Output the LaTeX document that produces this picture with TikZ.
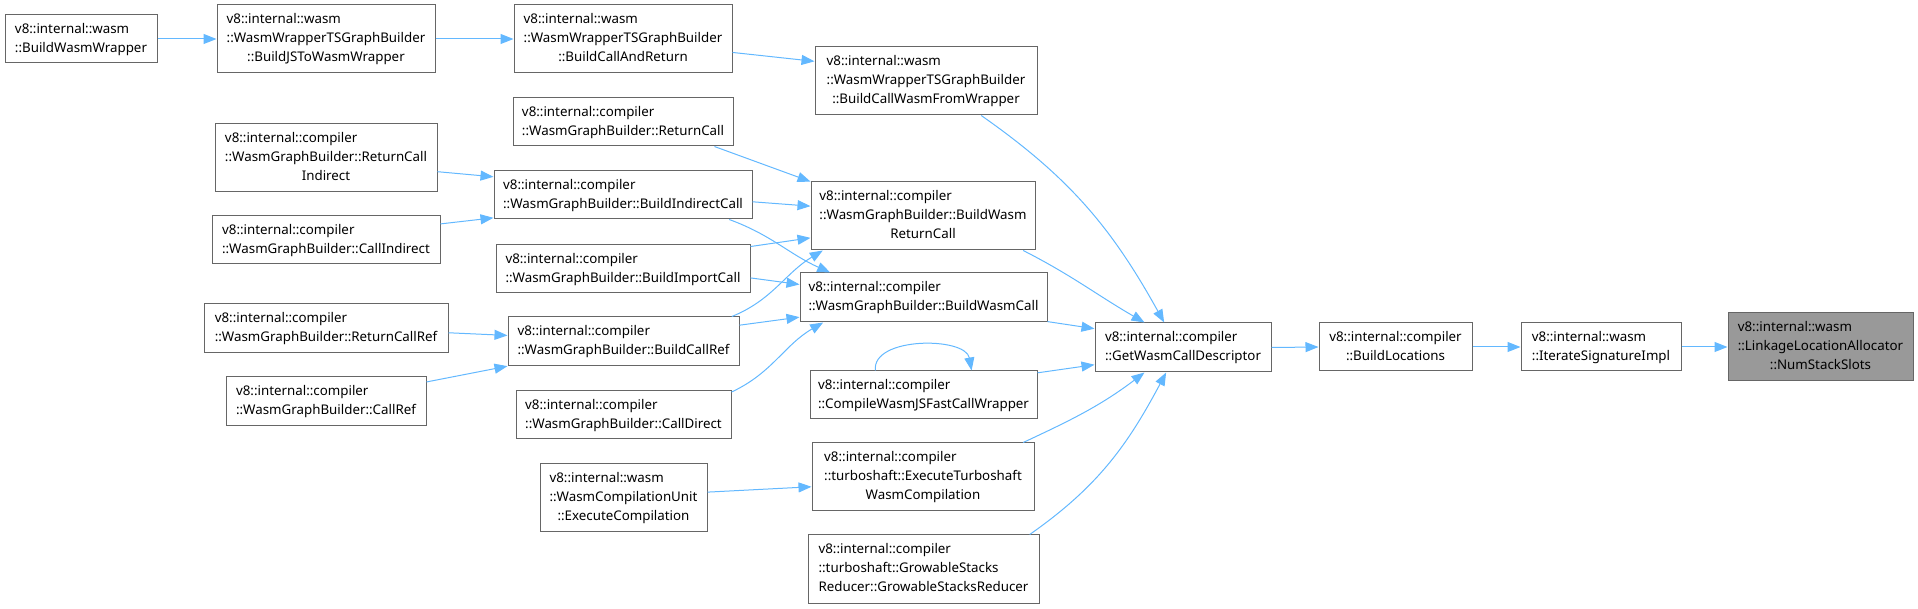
\documentclass[tikz,border=0pt]{standalone}
\usepackage{fontspec}
\setmainfont{Noto Sans}
\usetikzlibrary{arrows.meta}
\definecolor{edgecol}{HTML}{63B8FF}
\definecolor{bordercol}{HTML}{666666}
\definecolor{hilite}{HTML}{999999}
\newcommand{\twol}[2]{\begin{tabular}{@{}l@{}}#1\\\multicolumn{1}{@{}c@{}}{#2}\end{tabular}}
\newcommand{\threel}[3]{\begin{tabular}{@{}l@{}}#1\\#2\\\multicolumn{1}{@{}c@{}}{#3}\end{tabular}}
\begin{document}
\begin{tikzpicture}[x=0.75pt,y=-0.75pt,
  box/.style 2 args={draw=bordercol, line width=0.75pt, fill=white, inner sep=0pt,
    minimum width=#1*0.75pt, minimum height=#2*0.75pt,
    font=\fontsize{10}{14.25}\selectfont},
  hbox/.style 2 args={box={#1}{#2}, fill=hilite},
  edge/.style={draw=edgecol, line width=0.75pt, -{Triangle[length=9.75pt,width=7.5pt]}}]
\useasboundingbox (0,0) rectangle (1918,609);
% nodes
\node[box={152}{48}] (bww) at (81,39) {\twol{v8::internal::wasm}{::BuildWasmWrapper}};
\node[box={218}{68}] (jsw) at (326,39) {\threel{v8::internal::wasm}{::WasmWrapperTSGraphBuilder}{::BuildJSToWasmWrapper}};
\node[box={218}{68}] (bcar) at (623,39) {\threel{v8::internal::wasm}{::WasmWrapperTSGraphBuilder}{::BuildCallAndReturn}};
\node[box={222}{68}] (bcwfw) at (926,81) {\threel{v8::internal::wasm}{::WasmWrapperTSGraphBuilder}{::BuildCallWasmFromWrapper}};
\node[box={220}{48}] (rc) at (623,122) {\twol{v8::internal::compiler}{::WasmGraphBuilder::ReturnCall}};
\node[box={222}{68}] (rci) at (326,158) {\threel{v8::internal::compiler}{::WasmGraphBuilder::ReturnCall}{Indirect}};
\node[box={258}{48}] (bic) at (623,195) {\twol{v8::internal::compiler}{::WasmGraphBuilder::BuildIndirectCall}};
\node[box={224}{68}] (bwrc) at (923,216) {\threel{v8::internal::compiler}{::WasmGraphBuilder::BuildWasm}{ReturnCall}};
\node[box={228}{48}] (ci) at (326,240) {\twol{v8::internal::compiler}{::WasmGraphBuilder::CallIndirect}};
\node[box={254}{48}] (bimc) at (623,269) {\twol{v8::internal::compiler}{::WasmGraphBuilder::BuildImportCall}};
\node[box={247}{49}] (bwc) at (923.5,297.5) {\twol{v8::internal::compiler}{::WasmGraphBuilder::BuildWasmCall}};
\node[box={244}{49}] (rcr) at (326,328.5) {\twol{v8::internal::compiler}{::WasmGraphBuilder::ReturnCallRef}};
\node[box={231}{49}] (bcr) at (623.5,341.5) {\twol{v8::internal::compiler}{::WasmGraphBuilder::BuildCallRef}};
\node[box={200}{49}] (cr) at (326,401.5) {\twol{v8::internal::compiler}{::WasmGraphBuilder::CallRef}};
\node[box={215}{48}] (cd) at (623.5,415) {\twol{v8::internal::compiler}{::WasmGraphBuilder::CallDirect}};
\node[box={227}{48}] (cwjs) at (923.5,395) {\twol{v8::internal::compiler}{::CompileWasmJSFastCallWrapper}};
\node[box={167}{68}] (wcu) at (623.5,498) {\threel{v8::internal::wasm}{::WasmCompilationUnit}{::ExecuteCompilation}};
\node[box={222}{68}] (etwc) at (923,477) {\threel{v8::internal::compiler}{::turboshaft::ExecuteTurboshaft}{WasmCompilation}};
\node[box={231}{68}] (gsr) at (923.5,569) {\threel{v8::internal::compiler}{::turboshaft::GrowableStacks}{Reducer::GrowableStacksReducer}};
\node[box={176}{49}] (gwcd) at (1183,347.5) {\twol{v8::internal::compiler}{::GetWasmCallDescriptor}};
\node[box={153}{48}] (bl) at (1395.5,347) {\twol{v8::internal::compiler}{::BuildLocations}};
\node[box={160}{48}] (isi) at (1601,347) {\twol{v8::internal::wasm}{::IterateSignatureImpl}};
\node[hbox={185}{68}] (nss) at (1820.5,347) {\threel{v8::internal::wasm}{::LinkageLocationAllocator}{::NumStackSlots}};
% edges
\draw[edge] (bww.east) -- (jsw.west);
\draw[edge] (jsw.east) -- (bcar.west);
\draw[edge] (bcar.-7.8) -- (bcwfw.170.8);
\draw[edge] (bcwfw.-32.7) to[out=-35,in=119] (gwcd.127.8);
\draw[edge] (rc.-15.1) -- (bwrc.163);
\draw[edge] (bic.-3.5) -- (bwrc.175.4);
\draw[edge] (bic.-13.9) to[out=-20,in=156] (bwc.165.6);
\draw[edge] (rci.-7.2) -- (bic.172.5);
\draw[edge] (ci.8.5) -- (bic.-170.8);
\draw[edge] (bimc.10.3) -- (bwrc.-169.4);
\draw[edge] (bimc.-4.95) -- (bwc.174.7);
\draw[edge] (bcr.13.6) to[out=22,in=-149] (bwrc.-161.7);
\draw[edge] (bcr.8.6) -- (bwc.-171);
\draw[edge] (rcr.-2.6) -- (bcr.177.3);
\draw[edge] (cr.11.6) -- (bcr.-168.5);
\draw[edge] (cd.12.7) to[out=25,in=-150] (bwc.-166);
\draw[edge] (bwrc.-19.3) to[out=-27,in=150] (gwcd.147.2);
\draw[edge] (bwc.-11.2) -- (gwcd.168.8);
\draw[edge] (cwjs.11) -- (gwcd.-169.4);
\draw[edge] (cwjs.153.7) .. controls +(-4,-34) and +(-6,-34) .. (cwjs.27.3);
\draw[edge] (etwc.19.3) to[out=25,in=-143] (gwcd.-147.2);
\draw[edge] (gsr.18.2) to[out=35,in=-118] (gwcd.-124.8);
\draw[edge] (wcu.4.1) -- (etwc.-175.9);
\draw[edge] (gwcd.east) -- (bl.west);
\draw[edge] (bl.east) -- (isi.west);
\draw[edge] (isi.east) -- (nss.west);
\end{tikzpicture}
\end{document}
